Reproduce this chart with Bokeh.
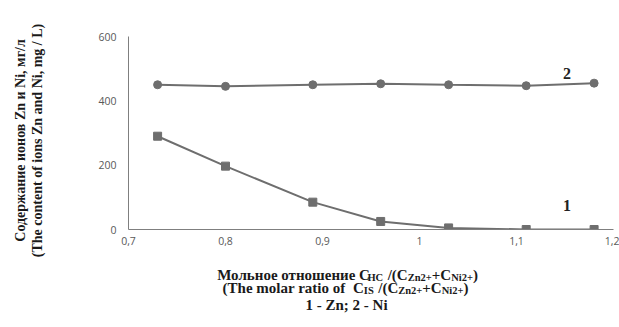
from bokeh.plotting import figure
from bokeh.layouts import column, row
from bokeh.models import Range1d, FixedTicker, Label
from bokeh.core.properties import value
from bokeh.embed import file_html
from bokeh.resources import INLINE
import math

# Molar ratio C_HC / (C_Zn2+ + C_Ni2+)
ratio = [0.73, 0.80, 0.89, 0.96, 1.03, 1.11, 1.18]
# Residual ion content, mg/L
zn_content = [290, 197, 85, 25, 5, 0, 0]
ni_content = [450, 445, 450, 453, 450, 447, 455]

x_ticks = [0.7, 0.8, 0.9, 1.0, 1.1, 1.2]
x_tick_labels = ["0,7", "0,8", "0,9", "1", "1,1", "1,2"]
y_ticks = [0, 200, 400, 600]

series_names = ["1", "2"]
series_name_x = 1.152
series_name_y = [75, 485]

y_title = ["Содержание ионов Zn и Ni, мг/л",
           "(The content of ions Zn and Ni, mg / L)"]
# (text, subscript?, gap before in em)
x_title_1 = [("Мольное отношение C", False, 0), ("HC", True, 0),
             ("/(C", False, 0.3), ("Zn2+", True, 0), ("+C", False, 0),
             ("Ni2+", True, 0), (")", False, 0)]
x_title_2 = [("(The molar ratio of", False, 0), ("C", False, 0.5),
             ("IS", True, 0), ("/(C", False, 0.3), ("Zn2+", True, 0),
             ("+C", False, 0), ("Ni2+", True, 0), (")", False, 0)]
legend_text = "1 - Zn; 2 - Ni"

W, H = 619, 327
SIDE_W = 60          # strip holding the vertical axis title
TOP_H = 258          # chart row height; the caption strip fills the rest
SERIF = "Liberation Serif"
INK = "#1a1a1a"
LINE_COLOR = "#6e6e6e"
TITLE_SIZE = 15
SUB_SIZE = 10.5


def blank(width, height):
    f = figure(width=width, height=height, output_backend="svg",
               toolbar_location=None, x_axis_type=None, y_axis_type=None,
               x_range=Range1d(0, width), y_range=Range1d(height, 0),
               min_border=0)
    f.min_border_left = f.min_border_right = 0
    f.min_border_top = f.min_border_bottom = 0
    f.frame_align = False
    f.outline_line_color = None
    f.grid.visible = False
    return f


# --- chart -------------------------------------------------------------
p = figure(width=W - SIDE_W, height=TOP_H, output_backend="svg",
           toolbar_location=None,
           x_range=Range1d(0.7, 1.2), y_range=Range1d(0, 600),
           min_border_left=68, min_border_right=6,
           min_border_top=36, min_border_bottom=29)
p.outline_line_color = None
p.grid.visible = False

for ax in (p.xaxis[0], p.yaxis[0]):
    ax.axis_line_color = "#7f7f7f"
    ax.axis_line_width = 1
    ax.major_tick_line_color = None
    ax.major_tick_out = 0
    ax.major_tick_in = 0
    ax.minor_tick_line_color = None
    ax.minor_tick_out = 0
    ax.major_label_text_font = "Open Sans"
    ax.major_label_text_font_size = "10.5px"
    ax.major_label_text_color = "#595959"

p.xaxis.ticker = FixedTicker(ticks=x_ticks)
p.xaxis.major_label_overrides = {t: s for t, s in zip(x_ticks, x_tick_labels)}
p.xaxis.major_label_standoff = 7
p.yaxis.ticker = FixedTicker(ticks=y_ticks)
p.yaxis.major_label_standoff = 12

p.line(ratio, zn_content, line_color=LINE_COLOR, line_width=2)
p.scatter(ratio, zn_content, marker="square", size=8,
          fill_color=LINE_COLOR, line_color=LINE_COLOR)
p.line(ratio, ni_content, line_color=LINE_COLOR, line_width=2)
p.scatter(ratio, ni_content, marker="circle", size=8,
          fill_color=LINE_COLOR, line_color=LINE_COLOR)

p.text(x=[series_name_x] * 2, y=series_name_y, text=series_names,
       text_font=value(SERIF), text_font_style="bold",
       text_font_size="16px", text_color="#222222",
       text_align="center", text_baseline="middle")

# --- vertical axis title ----------------------------------------------
side = blank(SIDE_W, TOP_H)
for txt, cx in zip(y_title, (20, 37)):
    side.add_layout(Label(x=cx, y=140, text=txt, angle=math.pi / 2,
                          text_font=SERIF, text_font_style="bold",
                          text_font_size="14px", text_color=INK,
                          text_align="center", text_baseline="middle"))

# --- horizontal axis title and series key -------------------------------
cap = blank(W, H - TOP_H)

# approximate advance widths (em) of the bold serif glyphs
GLYPH_W = {
    " ": 0.25, "(": 0.333, ")": 0.333, "/": 0.278, "+": 0.570, ";": 0.333,
    "-": 0.333, ",": 0.25, "C": 0.722, "H": 0.778, "I": 0.389, "S": 0.556,
    "Z": 0.667, "N": 0.722, "T": 0.667, "L": 0.667, "1": 0.5, "2": 0.5,
    "n": 0.556, "i": 0.278, "h": 0.556, "e": 0.444, "m": 0.833, "o": 0.5,
    "l": 0.278, "a": 0.5, "r": 0.444, "t": 0.333, "f": 0.333,
    "М": 0.944, "о": 0.5, "л": 0.54, "ь": 0.5, "н": 0.556, "е": 0.444,
    "т": 0.444, "ш": 0.815, "и": 0.556,
}


def text_width(s, size):
    return sum(GLYPH_W.get(ch, 0.5) for ch in s) * size


def rich_line(runs, center_x, baseline_y, size=TITLE_SIZE, sub_size=SUB_SIZE,
              sub_drop=3):
    pieces = []
    total = 0
    for t, sub, gap in runs:
        fs = sub_size if sub else size
        total += gap * size
        pieces.append((t, sub, fs, total))
        total += text_width(t, fs)
    x0 = center_x - total / 2
    for t, sub, fs, off in pieces:
        cap.add_layout(Label(
            x=x0 + off, y=baseline_y - TOP_H + (sub_drop if sub else 0),
            text=t, text_font=SERIF, text_font_style="bold",
            text_font_size=f"{fs}px", text_color=INK,
            text_align="left", text_baseline="alphabetic"))


rich_line(x_title_1, 347, 274)
rich_line(x_title_2, 345, 287)
rich_line([(legend_text, False, 0)], 346, 304)

layout = column(row(side, p), cap)
open("out.html", "w").write(file_html(layout, INLINE))
